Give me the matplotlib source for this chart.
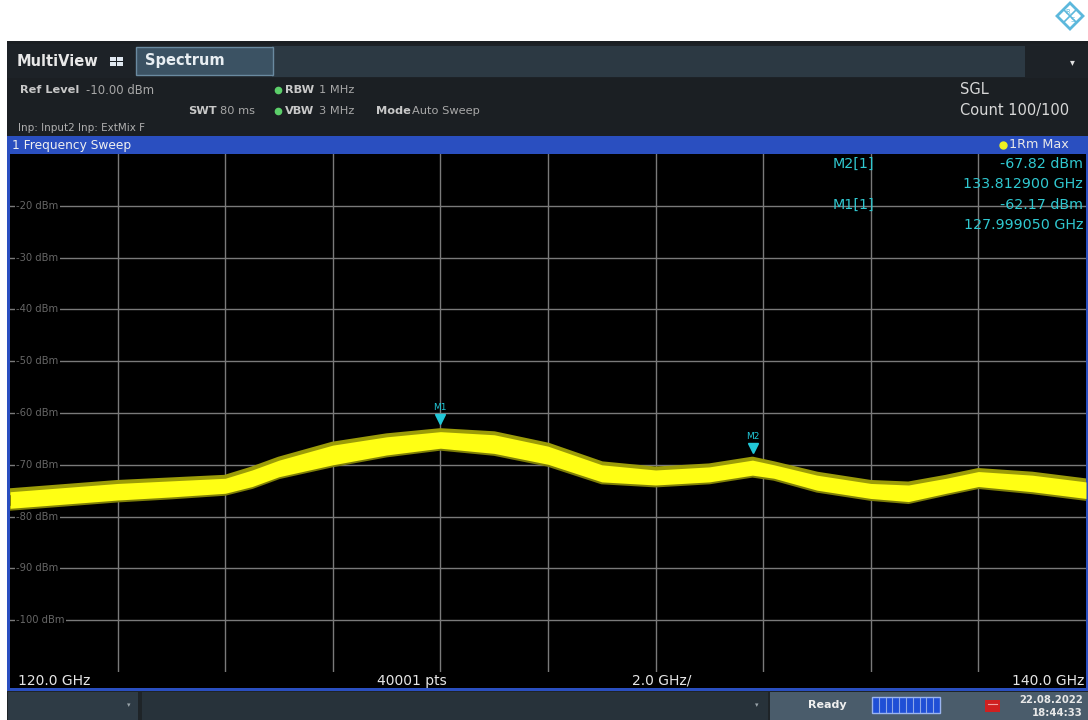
import matplotlib
matplotlib.use("Agg")
import matplotlib.pyplot as plt
from matplotlib.patches import Rectangle, Polygon
from matplotlib.transforms import offset_copy

# ---- sweep data (max-hold trace envelope, dBm) ----
freq_ghz = [120, 121, 122, 123, 124, 124.5, 125, 126, 127, 128, 129, 130,
            131, 132, 133, 133.8, 134.2, 135, 136, 136.7, 137.4, 138, 139, 140]
upper_dbm = [-75.2, -74.4, -73.6, -73.1, -72.6, -71.0, -69.1, -66.2, -64.6, -63.6, -64.2, -66.4,
             -70.0, -71.0, -70.4, -69.1, -70.0, -72.0, -73.6, -73.9, -72.6, -71.3, -72.0, -73.3]
lower_dbm = [-78.4, -77.6, -76.8, -76.2, -75.5, -74.2, -72.3, -70.0, -68.1, -66.8, -67.8, -69.9,
             -73.3, -73.9, -73.3, -72.0, -72.6, -74.9, -76.5, -77.1, -75.5, -74.2, -75.2, -76.5]

marker_names = ["M1", "M2"]
marker_freq_ghz = [127.999050, 133.812900]
marker_level_dbm = [-62.17, -67.82]

level_ticks = [-20, -30, -40, -50, -60, -70, -80, -90, -100]
freq_ticks = [122, 124, 126, 128, 130, 132, 134, 136, 138]

W, H = 1088, 720
fig = plt.figure(figsize=(W / 100, H / 100), dpi=100)
fig.patch.set_facecolor("white")

# background canvas in pixel coordinates
bg = fig.add_axes([0, 0, 1, 1])
bg.set_xlim(0, W)
bg.set_ylim(H, 0)
bg.axis("off")
bg.set_zorder(0)


def rect(x0, y0, x1, y1, color, **kw):
    bg.add_patch(Rectangle((x0, y0), x1 - x0, y1 - y0, facecolor=color,
                           edgecolor=kw.pop("edgecolor", "none"), **kw))


def txt(x, y, s, **kw):
    kw.setdefault("va", "center")
    kw.setdefault("ha", "left")
    kw.setdefault("family", "DejaVu Sans")
    bg.text(x, y, s, **kw)


# logo
cx, cy, r = 1070, 16, 13
logo_c = "#5cb8dc"
bg.add_patch(Polygon([(cx, cy - r), (cx + r, cy), (cx, cy + r), (cx - r, cy)],
                     closed=True, facecolor="none", edgecolor=logo_c, lw=2))
bg.plot([cx - r / 2, cx + r / 2], [cy - r / 2, cy + r / 2], color=logo_c, lw=1.2)
bg.plot([cx + r / 2, cx - r / 2], [cy - r / 2, cy + r / 2], color=logo_c, lw=1.2)
txt(cx - 2, cy - 4, "R", ha="center", fontsize=5, color=logo_c)
txt(cx + 3, cy + 4, "S", ha="center", fontsize=5, color=logo_c)

# window chrome
rect(7, 41, W, 720, "#1b1f23")
rect(7, 44, W, 78, "#1d2227")
rect(272, 46, 1025, 77, "#2c3943")
rect(136, 47, 273, 75, "#3b5263", edgecolor="#6a8aa0", lw=1)
txt(17, 62, "MultiView", fontsize=10.5, fontweight="bold", color="#e8e8e8")
for dx in (0, 7):
    for dy in (0, 5):
        rect(110 + dx, 57 + dy, 116 + dx, 61 + dy, "#e0e8f0")
txt(145, 61, "Spectrum", fontsize=10.5, fontweight="bold", color="#e8eef2")
txt(1072, 62, "▾", ha="center", fontsize=7, color="#e0e0e0")

info_c = "#c8c8c8"
val_c = "#a8a8a8"
txt(20, 90, "Ref Level", fontsize=8.2, fontweight="bold", color=info_c)
txt(86, 90, "-10.00 dBm", fontsize=8.4, color=val_c)
txt(188, 111, "SWT", fontsize=8.2, fontweight="bold", color=info_c)
txt(220, 111, "80 ms", fontsize=8.2, color=val_c)
for yy in (90, 111):
    bg.plot([278], [yy], "o", ms=4.5, color="#5ccf6a")
txt(285, 90, "RBW", fontsize=8.2, fontweight="bold", color=info_c)
txt(319, 90, "1 MHz", fontsize=8.2, color=val_c)
txt(285, 111, "VBW", fontsize=8.2, fontweight="bold", color=info_c)
txt(319, 111, "3 MHz", fontsize=8.2, color=val_c)
txt(376, 111, "Mode", fontsize=8.2, fontweight="bold", color=info_c)
txt(412, 111, "Auto Sweep", fontsize=8.2, color=val_c)
txt(18, 128, "Inp: Input2 Inp: ExtMix F", fontsize=7.5, color="#b0b0b0")
txt(960, 90, "SGL", fontsize=10.5, color="#d8d8d8")
txt(960, 111, "Count 100/100", fontsize=10.5, color="#d8d8d8")

# diagram frame and title bar
blue = "#2a4fc0"
rect(7, 136, W, 691, blue)
rect(10, 154, 1086, 688, "black")
txt(12, 145, "1 Frequency Sweep", fontsize=8.8, color="#f0f0f0")
bg.plot([1003], [145], "o", ms=5, color="#f0f020")
txt(1009, 145, "1Rm Max", fontsize=9.2, color="#e8e8e8")

# frequency axis annotations
ax_c = "#e6e6e6"
txt(18, 681, "120.0 GHz", fontsize=10, color=ax_c)
txt(412, 681, "40001 pts", ha="center", fontsize=10, color=ax_c)
txt(662, 681, "2.0 GHz/", ha="center", fontsize=10, color=ax_c)
txt(1084, 681, "140.0 GHz", ha="right", fontsize=10, color=ax_c)

# status bar
rect(7, 691, W, 720, "#1e2428")
rect(8, 692, 138, 720, "#2e3b45")
rect(142, 692, 768, 720, "#27323a")
rect(770, 692, W, 720, "#4a5c6b")
txt(129, 705, "▾", ha="center", fontsize=5, color="#9aa4aa")
txt(757, 705, "▾", ha="center", fontsize=5, color="#9aa4aa")
txt(808, 705, "Ready", fontsize=8, fontweight="bold", color="#f0f0f0")
rect(872, 697, 940, 713, "#1f4fd6", edgecolor="#9ab4f0", lw=1)
for i in range(1, 10):
    xx = 872 + i * 6.8
    bg.plot([xx, xx], [698, 712], color="#8ea8e8", lw=0.8)
rect(985, 700, 1000, 712, "#d02020")
bg.plot([988, 997], [704, 704], color="#f0a0a0", lw=0.8)
txt(1083, 700, "22.08.2022", ha="right", fontsize=7.3, fontweight="bold", color="#e8e8e8")
txt(1083, 713, "18:44:33", ha="right", fontsize=7.3, fontweight="bold", color="#e8e8e8")

# ---- diagram ----
ax = fig.add_axes([10 / W, (H - 672) / H, (1086 - 10) / W, (672 - 154) / H])
ax.set_zorder(1)
ax.set_facecolor("black")
ax.set_xlim(120, 140)
ax.set_ylim(-110, -10)
for s in ax.spines.values():
    s.set_visible(False)
ax.set_xticks([])
ax.set_yticks([])

grid_c = "#7a7a7a"
for f in freq_ticks:
    ax.axvline(f, color=grid_c, lw=1, zorder=1)
for lv in level_ticks:
    ax.axhline(lv, color=grid_c, lw=1, zorder=1)
    ax.text(120.12, lv, f"{lv} dBm", va="center", ha="left", fontsize=7.2,
            color="#666666", zorder=2,
            bbox=dict(boxstyle="square,pad=0.15", fc="black", ec="none"))

# trace band: darker rim stands in for the noise spikes at the edges
ax.plot(freq_ghz, upper_dbm, color="#9c9c08", lw=5, zorder=3, solid_joinstyle="round")
ax.plot(freq_ghz, lower_dbm, color="#7e7e08", lw=3.5, zorder=3, solid_joinstyle="round")
ax.fill_between(freq_ghz, lower_dbm, upper_dbm, color="#ffff14", lw=0, zorder=4)

mk_c = "#22c8d8"
for name, f, lv in zip(marker_names, marker_freq_ghz, marker_level_dbm):
    tri = offset_copy(ax.transData, fig=fig, x=0, y=4, units="points")
    ax.plot([f], [lv], marker="v", ms=6.5, color=mk_c, transform=tri, zorder=6)
    ax.annotate(name, (f, lv), xytext=(0, 12), textcoords="offset points",
                ha="center", va="center", fontsize=6.5, color=mk_c, zorder=6)

# marker table
tab_c = "#30c8d0"
rows = [("M2[1]", -67.82, 133.812900, 164, 184), ("M1[1]", -62.17, 127.999050, 205, 225)]
for label, lv, f, y1, y2 in rows:
    for (x, y, s, ha) in [(833, y1, label, "left"),
                          (1083, y1, f"{lv:.2f} dBm", "right"),
                          (1083, y2, f"{f:.6f} GHz", "right")]:
        fig.text(x / W, 1 - y / H, s, ha=ha, va="center", fontsize=10.3,
                 color=tab_c, family="DejaVu Sans", zorder=10)

fig.savefig("out.png", dpi=100, facecolor="white")
